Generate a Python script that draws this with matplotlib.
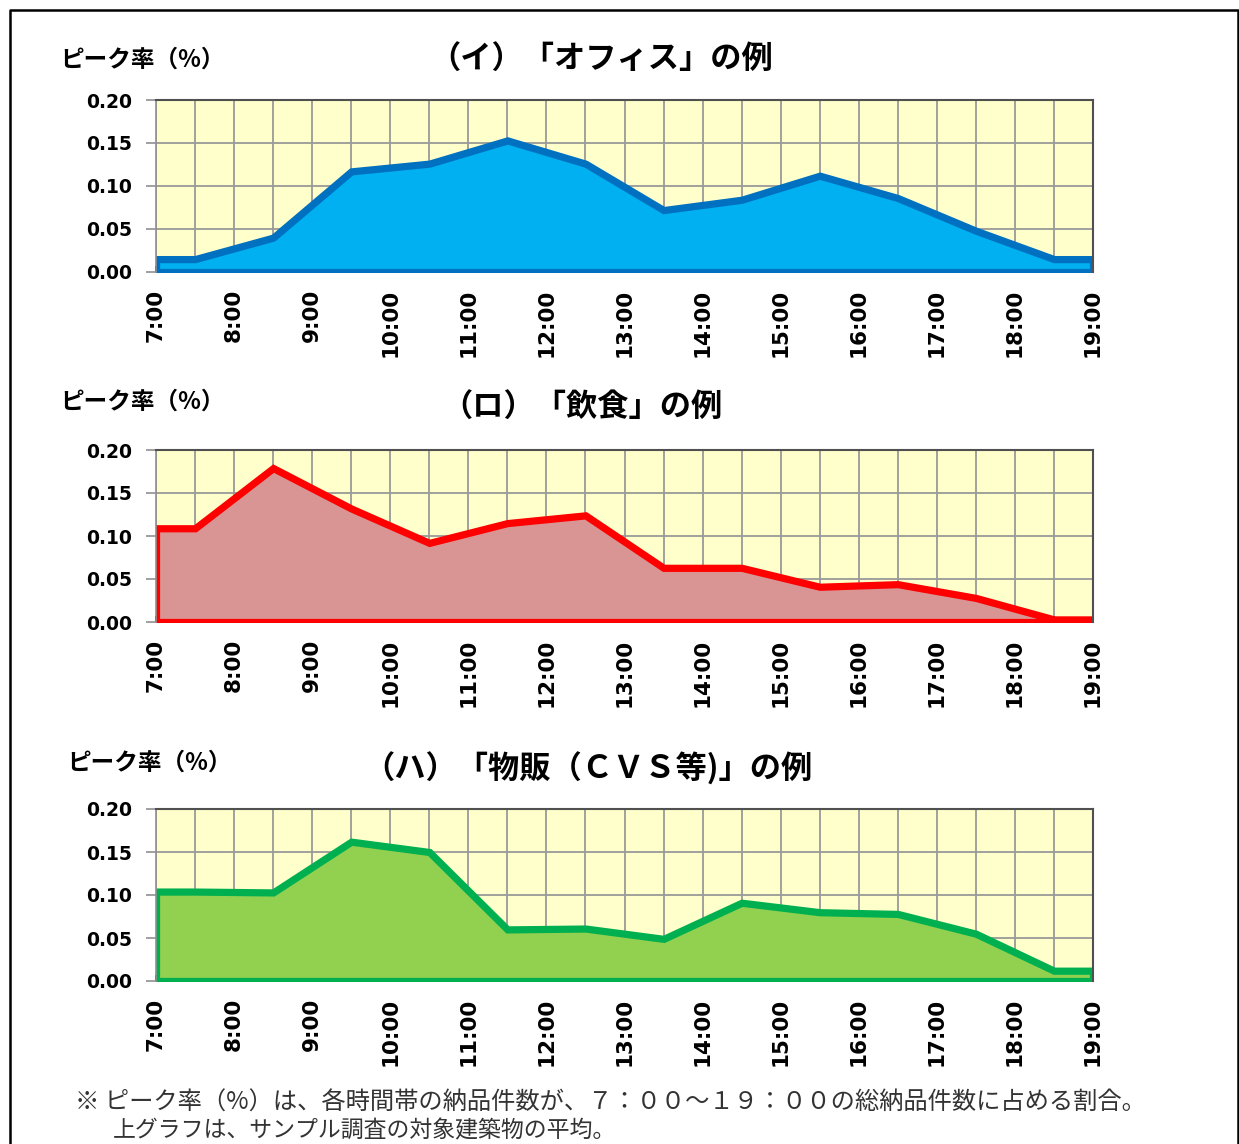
import matplotlib
matplotlib.use("Agg")
import matplotlib.pyplot as plt
from matplotlib.lines import Line2D
from matplotlib.ticker import MultipleLocator, FixedLocator, FuncFormatter

plt.rcParams['font.family'] = ['DejaVu Sans']
JP = ['Noto Sans CJK JP', 'DejaVu Sans']

# Sampling times (half-hour bins) and the peak-rate series
times = ["7:00", "7:30", "8:30", "9:30", "10:30", "11:30", "12:30",
         "13:30", "14:30", "15:30", "16:30", "17:30", "18:30", "19:00"]
office = [0.015, 0.015, 0.040, 0.117, 0.126, 0.153, 0.126,
          0.072, 0.084, 0.112, 0.086, 0.048, 0.015, 0.015]
dining = [0.109, 0.109, 0.179, 0.132, 0.092, 0.115, 0.124,
          0.063, 0.063, 0.041, 0.044, 0.028, 0.003, 0.003]
retail = [0.104, 0.104, 0.103, 0.162, 0.150, 0.060, 0.061,
          0.049, 0.091, 0.080, 0.078, 0.055, 0.012, 0.012]

hour_labels = [f"{h}:00" for h in range(7, 20)]
titles = ["（イ）「オフィス」の例", "（ロ）「飲食」の例", "（ハ）「物販（ＣＶＳ等)」の例"]
ylabel = "ピーク率（%）"

fills = ["#00B0F0", "#D99594", "#92D050"]
lines = ["#0070C0", "#FF0000", "#00B050"]

W, H = 1239, 1144
fig = plt.figure(figsize=(W / 100, H / 100), dpi=100)
fig.patch.set_facecolor("white")


def to_hours(t):
    h, m = t.split(":")
    return int(h) + int(m) / 60


x = [to_hours(t) for t in times]

# pixel layout of the three panels: (top, bottom) in pixels
panels = [(100, 272), (450, 622), (809, 981)]
ax_left, ax_right = 156, 1093
ylab_pos = [(60, 60), (60, 402), (67, 763)]
title_pos = [(601, 60), (582, 408), (588, 769)]

for i, (series, (top, bot)) in enumerate(zip([office, dining, retail], panels)):
    ax = fig.add_axes([ax_left / W, 1 - bot / H, (ax_right - ax_left) / W, (bot - top) / H])
    ax.set_facecolor("#FFFFCC")
    ax.set_axisbelow(True)
    ax.fill_between(x, series, 0, facecolor=fills[i], edgecolor=lines[i],
                    linewidth=5.2, zorder=2, joinstyle="miter")
    ax.set_xlim(7, 19)
    ax.set_ylim(0, 0.20)

    ax.xaxis.set_major_locator(FixedLocator(list(range(7, 20))))
    ax.xaxis.set_minor_locator(MultipleLocator(0.5))
    ax.set_xticklabels(hour_labels, rotation=90, fontsize=15.5, fontweight="bold",
                       va="top", ha="center")
    ax.yaxis.set_major_locator(MultipleLocator(0.05))
    ax.yaxis.set_major_formatter(FuncFormatter(lambda v, p: f"{v:.2f}"))
    for lab in ax.get_yticklabels():
        lab.set_fontsize(13.5)
        lab.set_fontweight("bold")

    ax.grid(True, which="both", axis="x", color="#9A9A9A", linewidth=1.3)
    ax.grid(True, which="major", axis="y", color="#9A9A9A", linewidth=1.3)

    ax.tick_params(axis="x", which="both", direction="in", length=4, width=1.2,
                   color="black", pad=12, bottom=True, top=False)
    ax.tick_params(axis="y", direction="out", length=7, width=1.2,
                   color="#909090", pad=10)
    for side in ["top", "right"]:
        ax.spines[side].set_color("#505050")
        ax.spines[side].set_linewidth(1.5)
        ax.spines[side].set_zorder(3)
    ax.spines["left"].set_color("#909090")
    ax.spines["left"].set_linewidth(1.2)
    ax.spines["bottom"].set_visible(False)

    yx, yy = ylab_pos[i]
    fig.text(yx / W, 1 - yy / H, ylabel, family=JP, fontsize=17,
             fontweight="bold", ha="left", va="center")
    tx, ty = title_pos[i]
    fig.text(tx / W, 1 - ty / H, titles[i], family=JP, fontsize=22.5,
             fontweight="bold", ha="center", va="center")

# footnote
fig.text(75 / W, 1 - 1103 / H,
         "※ ピーク率（%）は、各時間帯の納品件数が、７：００～１９：００の総納品件数に占める割合。",
         family=JP, fontsize=17.5, color="#333333", ha="left", va="center")
fig.text(113 / W, 1 - 1131 / H,
         "上グラフは、サンプル調査の対象建築物の平均。",
         family=JP, fontsize=16.5, color="#333333", ha="left", va="center")

# page frame
frame = Line2D([10 / W, 10 / W, 1238 / W, 1238 / W],
               [-0.05, 1 - 10 / H, 1 - 10 / H, -0.05],
               transform=fig.transFigure, color="black", linewidth=1.8)
fig.add_artist(frame)

fig.savefig("out.png", dpi=100)
